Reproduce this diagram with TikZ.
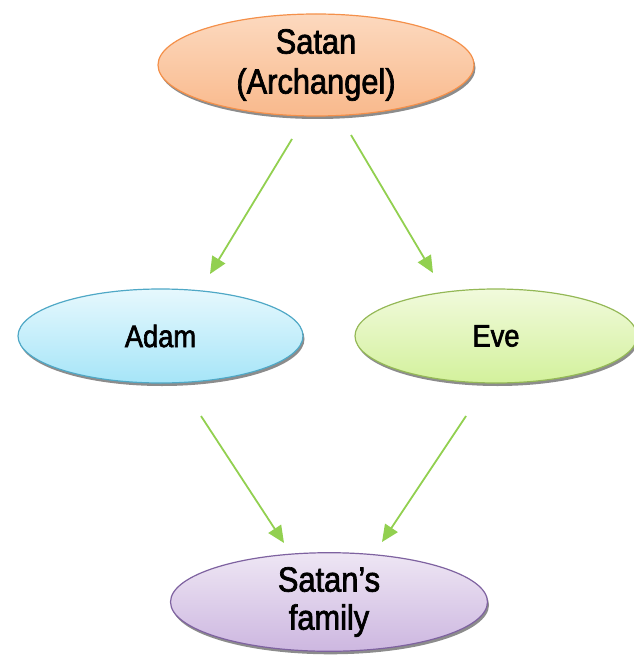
\documentclass[tikz,border=0pt]{standalone}
\usepackage{fontspec}
\setmainfont{Liberation Sans}[FakeStretch=0.88, FakeBold=2]
\usetikzlibrary{arrows.meta,shapes.geometric,shadows}
\definecolor{orTop}{HTML}{FCD9BF}
\definecolor{orBot}{HTML}{F9B98C}
\definecolor{orLine}{HTML}{F4904A}
\definecolor{blTop}{HTML}{E6F8FD}
\definecolor{blBot}{HTML}{A6E5F8}
\definecolor{blLine}{HTML}{4FA8C6}
\definecolor{grTop}{HTML}{F1FADC}
\definecolor{grBot}{HTML}{D3F19C}
\definecolor{grLine}{HTML}{94B856}
\definecolor{puTop}{HTML}{EEE6F4}
\definecolor{puBot}{HTML}{CDB7E0}
\definecolor{puLine}{HTML}{7E62A0}
\definecolor{arrowc}{HTML}{92D050}
\tikzset{
  oval/.style={ellipse, inner sep=0pt, line width=1.2pt, align=center,
    drop shadow={shadow xshift=1.5pt, shadow yshift=-3pt, fill=black, opacity=0.45}},
  bigtext/.style={font=\fontsize{35}{40}\selectfont},
  midtext/.style={font=\fontsize{31}{34}\selectfont},
  famtext/.style={font=\fontsize{35}{38}\selectfont},
  link/.style={draw=arrowc, line width=1.8pt, -{Triangle[length=17pt,width=15pt]}}
}
\begin{document}
\begin{tikzpicture}[x=1pt,y=-1pt]
\useasboundingbox (0,0) rectangle (633,660);
\node[oval, bigtext, minimum width=316pt, minimum height=102pt,
  draw=orLine, top color=orTop, bottom color=orBot] (satan) at (316,65) {Satan\\(Archangel)};
\node[oval, midtext, minimum width=285pt, minimum height=94pt,
  draw=blLine, top color=blTop, bottom color=blBot] (adam) at (160.5,336) {Adam};
\node[oval, midtext, minimum width=282pt, minimum height=94pt,
  draw=grLine, top color=grTop, bottom color=grBot] (eve) at (496,336) {Eve};
\node[oval, famtext, minimum width=317pt, minimum height=96pt,
  draw=puLine, top color=puTop, bottom color=puBot] (family) at (329,602) {Satan’s\\family};
\coordinate (s1) at (292,139);
\coordinate (a1) at (210,274);
\coordinate (s2) at (351,135);
\coordinate (e1) at (433,273);
\coordinate (a2) at (201,416);
\coordinate (f1) at (284,543);
\coordinate (e2) at (466,416);
\coordinate (f2) at (382,542);
\draw[link] (s1) -- (a1);
\draw[link] (s2) -- (e1);
\draw[link] (a2) -- (f1);
\draw[link] (e2) -- (f2);
\end{tikzpicture}
\end{document}
